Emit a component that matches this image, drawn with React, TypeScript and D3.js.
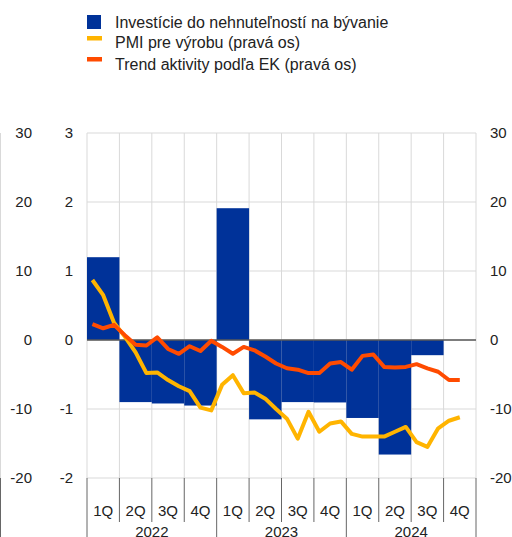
import * as d3 from "d3";

const quarters = ["1Q", "2Q", "3Q", "4Q", "1Q", "2Q", "3Q", "4Q", "1Q", "2Q", "3Q", "4Q"];
const years = ["2022", "2023", "2024"];
// bytové investície, medziročne (ľavá os)
const housing = [1.2, -0.9, -0.92, -0.95, 1.91, -1.15, -0.9, -0.905, -1.13, -1.66, -0.22, 0];
// mesačné údaje, jan 2022 - nov 2024 (pravá os)
const pmi = [
  8.7, 6.5, 2.5, 0.5, -1.8, -4.8, -4.7, -5.8, -6.7, -7.4, -9.8, -10.2,
  -6.5, -5.1, -7.7, -7.6, -8.5, -10.0, -11.4, -14.3, -10.4, -13.3, -12.1, -11.8,
  -13.6, -14.0, -14.0, -14.0, -13.3, -12.6, -14.8, -15.5, -12.8, -11.7, -11.2,
];
const trend = [
  2.3, 1.7, 2.2, 0.7, -0.7, -0.8, 0.4, -1.3, -2.0, -0.9, -1.6, -0.1,
  -1.0, -2.0, -1.0, -1.5, -2.4, -3.4, -4.1, -4.3, -4.8, -4.8, -3.4, -3.2,
  -4.3, -2.3, -2.1, -3.9, -4.0, -3.9, -3.5, -4.1, -4.6, -5.8, -5.8,
];
const rightTicks = [30, 20, 10, 0, -10, -20];
const leftTicks = [3, 2, 1, 0, -1, -2];

const W = 512;
const H = 537;
const m = { left: 87, right: 476, top: 133, bottom: 478 };
const FONT = "Arial, 'Liberation Sans', sans-serif";

export default function App() {
  const x = d3
    .scaleBand<number>()
    .domain(d3.range(quarters.length))
    .range([m.left, m.right])
    .padding(0);
  const y = d3.scaleLinear().domain([-20, 30]).range([m.bottom, m.top]);
  const yl = d3.scaleLinear().domain([-2, 3]).range([m.bottom, m.top]);
  const bw = x.bandwidth();
  const xm = (i: number) => m.left + (bw / 3) * (i + 0.5);

  const line = d3
    .line<number>()
    .x((_, i) => xm(i))
    .y((d) => y(d))
    .curve(d3.curveLinear);

  const bounds = d3.range(quarters.length + 1).map((i) => m.left + i * bw);

  return (
    <svg
      width={W}
      height={H}
      style={{ position: "fixed", left: 0, top: 0, background: "#fff" }}
      fontFamily={FONT}
    >
      {/* legenda */}
      <g fontSize={16} fill="#222">
        <rect x={87} y={15} width={14} height={14} fill="#003299" />
        <text x={115} y={27.5}>Investície do nehnuteľností na bývanie</text>
        <rect x={87} y={36} width={15} height={4.5} fill="#ffb400" />
        <text x={115} y={48}>PMI pre výrobu (pravá os)</text>
        <rect x={87} y={57} width={15} height={4.5} fill="#ff4b00" />
        <text x={115} y={69.5}>Trend aktivity podľa EK (pravá os)</text>
      </g>

      {/* mriežka */}
      <g stroke="#d9d9d9" strokeWidth={1}>
        {rightTicks.map((t) => (
          <line key={t} x1={m.left} x2={m.right} y1={y(t)} y2={y(t)} />
        ))}
        {bounds.map((b, i) => (
          <line key={i} x1={b} x2={b} y1={m.top} y2={m.bottom} />
        ))}
        <line x1={0.5} x2={0.5} y1={m.top} y2={m.bottom} />
      </g>
      <line x1={0.5} x2={0.5} y1={m.bottom} y2={H} stroke="#666" />

      {/* stĺpce */}
      {housing.map((v, i) => (
        <rect
          key={i}
          x={x(i)}
          width={bw}
          y={Math.min(yl(v), yl(0))}
          height={Math.abs(yl(v) - yl(0))}
          fill="#003299"
        />
      ))}

      <line x1={m.left} x2={m.right} y1={y(0)} y2={y(0)} stroke="#595959" strokeWidth={1.5} />

      <path d={line(pmi) || ""} fill="none" stroke="#ffb400" strokeWidth={4} strokeLinejoin="round" />
      <path d={line(trend) || ""} fill="none" stroke="#ff4b00" strokeWidth={4} strokeLinejoin="round" />

      {/* osi */}
      <g fontSize={15} fill="#222">
        {rightTicks.map((t) => (
          <text key={"o" + t} x={32} y={y(t)} dy="0.35em" textAnchor="end">
            {t}
          </text>
        ))}
        {leftTicks.map((t) => (
          <text key={"l" + t} x={73} y={yl(t)} dy="0.35em" textAnchor="end">
            {t}
          </text>
        ))}
        {rightTicks.map((t) => (
          <text key={"r" + t} x={490} y={y(t)} dy="0.35em">
            {t}
          </text>
        ))}
      </g>

      {/* časová os */}
      <g stroke="#666" strokeWidth={1}>
        {bounds.map((b, i) => (
          <line key={i} x1={b} x2={b} y1={m.bottom} y2={i % 4 === 0 ? H : 522} />
        ))}
      </g>
      <g fontSize={15} fill="#222" textAnchor="middle">
        {quarters.map((q, i) => (
          <text key={i} x={(x(i) || 0) + bw / 2} y={516}>
            {q}
          </text>
        ))}
        {years.map((yr, i) => (
          <text key={yr} x={m.left + bw * (i * 4 + 2)} y={537}>
            {yr}
          </text>
        ))}
      </g>
    </svg>
  );
}
